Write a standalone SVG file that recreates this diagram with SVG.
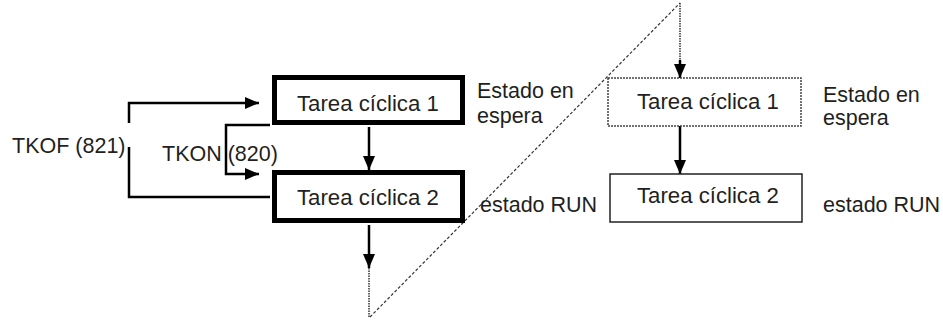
<svg xmlns="http://www.w3.org/2000/svg" width="943" height="321" viewBox="0 0 943 321">
<style>
text{font-family:"Liberation Sans",Arial,sans-serif;font-size:21.5px;fill:#231f20}
text.box{font-size:22.2px}
.thick{fill:#fff;stroke:#000;stroke-width:5}
.thin{fill:#fff;stroke:#222;stroke-width:1.5}
.dotted{fill:#fff;stroke:#444;stroke-width:1.5;stroke-dasharray:2 1}
.ln{fill:none;stroke:#000;stroke-width:2.5}
.dl{fill:none;stroke:#333;stroke-width:1.2;stroke-dasharray:3 2}
.dt{fill:none;stroke:#333;stroke-width:1.5;stroke-dasharray:1.5 1}
</style>
<defs>
<marker id="ah" markerWidth="14" markerHeight="14" refX="14" refY="7" orient="auto" markerUnits="userSpaceOnUse">
<path d="M0,1 L14,7 L0,13 Z" fill="#000"/>
</marker>
</defs>
<g id="connectors">
<polyline class="ln" points="129,123 129,103 259,103" marker-end="url(#ah)"/>
<polyline class="ln" points="129,147 129,197 270,197"/>
<polyline class="ln" points="270,125 226,125 226,174 259,174" marker-end="url(#ah)"/>
<line class="ln" x1="369" y1="127" x2="369" y2="170" marker-end="url(#ah)"/>
<line class="ln" x1="369" y1="225" x2="369" y2="268" marker-end="url(#ah)"/>
<line class="dt" x1="369" y1="268" x2="369" y2="317"/>
<line class="dl" x1="370" y1="317" x2="680" y2="3"/>
<line class="dt" x1="680" y1="3" x2="680" y2="62"/>
<line class="ln" x1="680" y1="60" x2="680" y2="78" marker-end="url(#ah)"/>
<line class="ln" x1="680" y1="126" x2="680" y2="174" marker-end="url(#ah)"/>
</g>
<g id="task1-left">
<rect class="thick" x="274.5" y="77.5" width="188" height="45"/>
<text class="box" x="297" y="111">Tarea cíclica 1</text>
</g>
<g id="task2-left">
<rect class="thick" x="274.5" y="172.5" width="188" height="48"/>
<text class="box" x="297" y="205">Tarea cíclica 2</text>
</g>
<g id="task1-right">
<rect class="dotted" x="608" y="78" width="193" height="48"/>
<text class="box" x="637" y="109">Tarea cíclica 1</text>
</g>
<g id="task2-right">
<rect class="thin" x="610" y="174" width="192" height="48"/>
<text class="box" x="637" y="203">Tarea cíclica 2</text>
</g>
<g id="labels">
<text x="12" y="153">TKOF (821)</text>
<text x="162" y="161">TKON (820)</text>
<text x="477" y="98">Estado en</text>
<text x="477" y="123">espera</text>
<text x="480" y="212">estado RUN</text>
<text x="823" y="102">Estado en</text>
<text x="823" y="125">espera</text>
<text x="823" y="212">estado RUN</text>
</g>
</svg>
